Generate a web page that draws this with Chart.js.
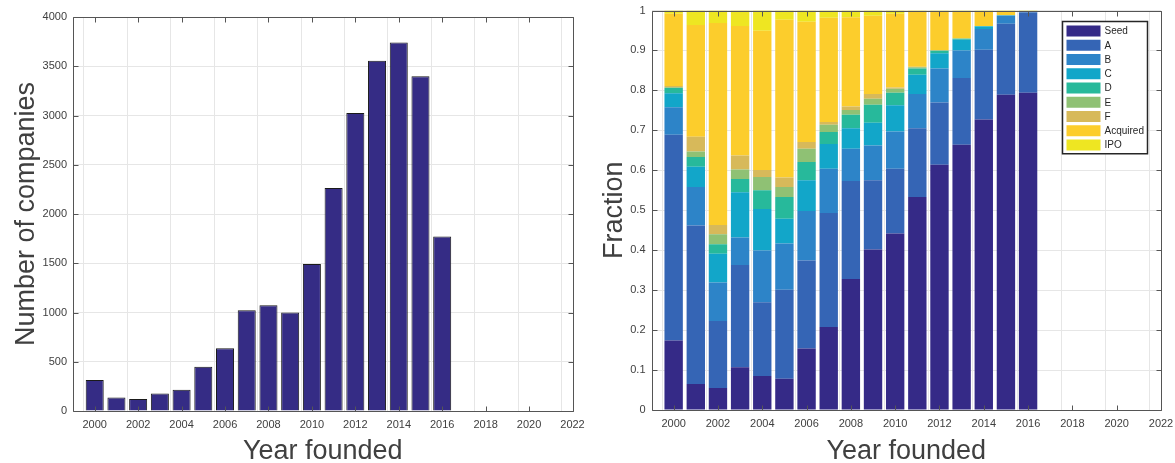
<!DOCTYPE html>
<html>
<head>
    <meta charset="UTF-8" />
    <title>Companies by year founded</title>
    <script src="https://cdn.jsdelivr.net/npm/chart.js@4.4.0/dist/chart.umd.min.js"></script>
    <style>
        body { margin: 0; background: #fff; }
        #leftBox { position: absolute; left: 0; top: 0; width: 590px; height: 463px; }
        #rightBox { position: absolute; left: 590px; top: 0; width: 585px; height: 463px; }
    </style>
</head>
<body>
    <div id="leftBox"><canvas id="countChart" width="590" height="463"></canvas></div>
    <div id="rightBox"><canvas id="fractionChart" width="585" height="463"></canvas></div>

    <script>
        // x axis runs 1999..2022, labels only on even years
        var axisYears = [1999, 2000, 2001, 2002, 2003, 2004, 2005, 2006, 2007, 2008, 2009, 2010,
                         2011, 2012, 2013, 2014, 2015, 2016, 2017, 2018, 2019, 2020, 2021, 2022];
        var foundedYears = [2000, 2001, 2002, 2003, 2004, 2005, 2006, 2007, 2008,
                            2009, 2010, 2011, 2012, 2013, 2014, 2015, 2016];
        var companyCounts = [315, 136, 122, 177, 217, 449, 636, 1023, 1074,
                             999, 1492, 2263, 3025, 3555, 3742, 3398, 1771];
        var countTicks = [0, 500, 1000, 1500, 2000, 2500, 3000, 3500, 4000];

        var stageNames = ['Seed', 'A', 'B', 'C', 'D', 'E', 'F', 'Acquired', 'IPO'];
        var stageColors = ['#352a87', '#3565b5', '#2d84c8', '#12a6c9', '#27b99b',
                           '#8fc174', '#d7b95a', '#fccd2c', '#eee622'];
        var fracSeed = [.174, .065, .055, .107, .085, .078, .154, .208, .328, .402, .442, .533, .614, .664, .727, .789, .794];
        var fracA = [.515, .397, .168, .256, .185, .223, .220, .285, .245, .173, .162, .172, .156, .167, .175, .178, .201];
        var fracB = [.069, .096, .096, .069, .129, .116, .124, .111, .081, .087, .093, .086, .085, .069, .052, .020, .002];
        var fracC = [.035, .051, .072, .113, .104, .062, .077, .062, .051, .057, .066, .048, .038, .027, .006, .001, 0];
        var fracD = [.013, .024, .024, .033, .047, .054, .046, .030, .034, .045, .031, .016, .006, .002, .001, 0, 0];
        var fracE = [.002, .014, .025, .024, .033, .025, .033, .018, .012, .015, .010, .003, .001, .001, 0, 0, 0];
        var fracF = [.003, .037, .023, .035, .018, .024, .017, .007, .009, .012, .003, .001, .001, 0, 0, 0, 0];
        var fracAcquired = [.181, .280, .506, .324, .348, .395, .301, .261, .223, .196, .185, .138, .098, .068, .036, .011, .002];
        var fracIPO = [.008, .036, .031, .039, .051, .023, .028, .018, .017, .013, .008, .003, .001, .002, .003, .001, .001];
        var stageFractions = [fracSeed, fracA, fracB, fracC, fracD, fracE, fracF, fracAcquired, fracIPO];

        var fontFamily = '"Liberation Sans", Arial, Helvetica, sans-serif';
        var textColor = '#404040';
        var gridColor = '#e6e6e6';
        var frameColor = '#555555';

        function toPoints(values) {
            return foundedYears.map(function (yr, i) { return { x: yr, y: values[i] }; });
        }

        // keep the plot box exactly where layout padding puts it
        function noLabelOverflow(scale) {
            scale.paddingLeft = 0;
            scale.paddingRight = 0;
            scale.paddingTop = 0;
            scale.paddingBottom = 0;
        }

        // MATLAB-like box with inward tick marks on all four sides
        var matlabFrame = {
            id: 'matlabFrame',
            afterDatasetsDraw: function (chart) {
                var ctx = chart.ctx, a = chart.chartArea;
                var xs = chart.scales.x, ys = chart.scales.y;
                var l = Math.round(a.left) + 0.5, r = Math.round(a.right) + 0.5;
                var t = Math.round(a.top) + 0.5, b = Math.round(a.bottom) + 0.5;
                ctx.save();
                ctx.strokeStyle = frameColor;
                ctx.lineWidth = 1;
                ctx.beginPath();
                for (var i = 0; i < xs.ticks.length; i++) {
                    if (axisYears[i] % 2) continue;
                    var px = Math.round(xs.getPixelForTick(i)) + 0.5;
                    ctx.moveTo(px, b); ctx.lineTo(px, b - 5);
                    ctx.moveTo(px, t); ctx.lineTo(px, t + 5);
                }
                for (var j = 0; j < ys.ticks.length; j++) {
                    var py = Math.round(ys.getPixelForTick(j)) + 0.5;
                    ctx.moveTo(l, py); ctx.lineTo(l + 5, py);
                    ctx.moveTo(r, py); ctx.lineTo(r - 5, py);
                }
                ctx.rect(l, t, r - l, b - t);
                ctx.stroke();
                ctx.restore();
            }
        };

        // boxed legend in the upper right of the plot area
        var boxLegend = {
            id: 'boxLegend',
            afterDraw: function (chart) {
                var ctx = chart.ctx, a = chart.chartArea;
                var sets = chart.data.datasets;
                var w = 85, rowH = 14.25;
                var h = sets.length * rowH + 4;
                var x0 = Math.round(a.right - 14 - w) + 0.5, y0 = Math.round(a.top + 10) + 0.5;
                ctx.save();
                ctx.fillStyle = '#ffffff';
                ctx.fillRect(x0, y0, w, h);
                ctx.strokeStyle = '#262626';
                ctx.lineWidth = 1.5;
                ctx.strokeRect(x0, y0, w, h);
                ctx.font = '10px ' + fontFamily;
                ctx.textBaseline = 'middle';
                ctx.textAlign = 'left';
                sets.forEach(function (ds, i) {
                    var ry = y0 + 4 + i * rowH;
                    ctx.fillStyle = ds.backgroundColor;
                    ctx.fillRect(x0 + 4, ry, 34, 11);
                    ctx.fillStyle = '#262626';
                    ctx.fillText(ds.label, x0 + 42, ry + 6);
                });
                ctx.restore();
            }
        };

        function xAxis(height) {
            return {
                type: 'category',
                labels: axisYears,
                offset: false,
                stacked: true,
                afterFit: function (scale) { scale.height = height; noLabelOverflow(scale); },
                grid: {
                    drawTicks: false,
                    color: function (c) { return axisYears[c.index] % 2 ? 'rgba(0,0,0,0)' : gridColor; }
                },
                border: { display: false },
                ticks: {
                    autoSkip: false, maxRotation: 0, padding: 7, color: textColor,
                    font: { family: fontFamily, size: 11 },
                    callback: function (v, i) { return axisYears[i] % 2 ? '' : String(axisYears[i]); }
                },
                title: {
                    display: true, text: 'Year founded', color: textColor,
                    font: { family: fontFamily, size: 27, lineHeight: 0.85 },
                    padding: { top: 0, bottom: 0 }
                }
            };
        }

        var countChart = new Chart('countChart', {
            type: 'bar',
            data: {
                datasets: [{
                    label: 'Number of companies',
                    data: toPoints(companyCounts),
                    backgroundColor: '#352c85',
                    borderColor: '#1a1a1a',
                    borderWidth: 1,
                    categoryPercentage: 1,
                    barPercentage: 0.83
                }]
            },
            plugins: [matlabFrame],
            options: {
                responsive: false,
                animation: false,
                layout: { padding: { top: 17, right: 17.5, left: 0, bottom: 0 } },
                plugins: { legend: { display: false }, tooltip: { enabled: false } },
                scales: {
                    x: xAxis(52),
                    y: {
                        min: 0, max: 4000,
                        afterFit: function (scale) { scale.width = 73; noLabelOverflow(scale); },
                        afterBuildTicks: function (scale) {
                            scale.ticks = countTicks.map(function (v) { return { value: v }; });
                        },
                        grid: { drawTicks: false, color: gridColor },
                        border: { display: false },
                        ticks: {
                            padding: 6, color: textColor, font: { family: fontFamily, size: 11 },
                            callback: function (v) { return String(v); }
                        },
                        title: {
                            display: true, text: 'Number of companies', color: textColor,
                            font: { family: fontFamily, size: 27, lineHeight: 1 },
                            padding: { top: 13, bottom: 0 }
                        }
                    }
                }
            }
        });

        var fractionChart = new Chart('fractionChart', {
            type: 'bar',
            data: {
                datasets: stageNames.map(function (name, k) {
                    return {
                        label: name,
                        data: toPoints(stageFractions[k]),
                        backgroundColor: stageColors[k],
                        borderWidth: 0,
                        categoryPercentage: 1,
                        barPercentage: 0.83
                    };
                })
            },
            plugins: [matlabFrame, boxLegend],
            options: {
                responsive: false,
                animation: false,
                layout: { padding: { top: 10.5, right: 14, left: 0, bottom: 0 } },
                plugins: { legend: { display: false }, tooltip: { enabled: false } },
                scales: {
                    x: xAxis(53),
                    y: {
                        stacked: true,
                        min: 0, max: 1,
                        afterFit: function (scale) { scale.width = 61.5; noLabelOverflow(scale); },
                        grid: { drawTicks: false, color: gridColor },
                        border: { display: false },
                        ticks: {
                            stepSize: 0.1, padding: 6, color: textColor,
                            font: { family: fontFamily, size: 11 },
                            callback: function (v) { return String(Math.round(v * 10) / 10); }
                        },
                        title: {
                            display: true, text: 'Fraction', color: textColor,
                            font: { family: fontFamily, size: 27, lineHeight: 1 },
                            padding: { top: 11, bottom: 0 }
                        }
                    }
                }
            }
        });
    </script>
</body>
</html>
